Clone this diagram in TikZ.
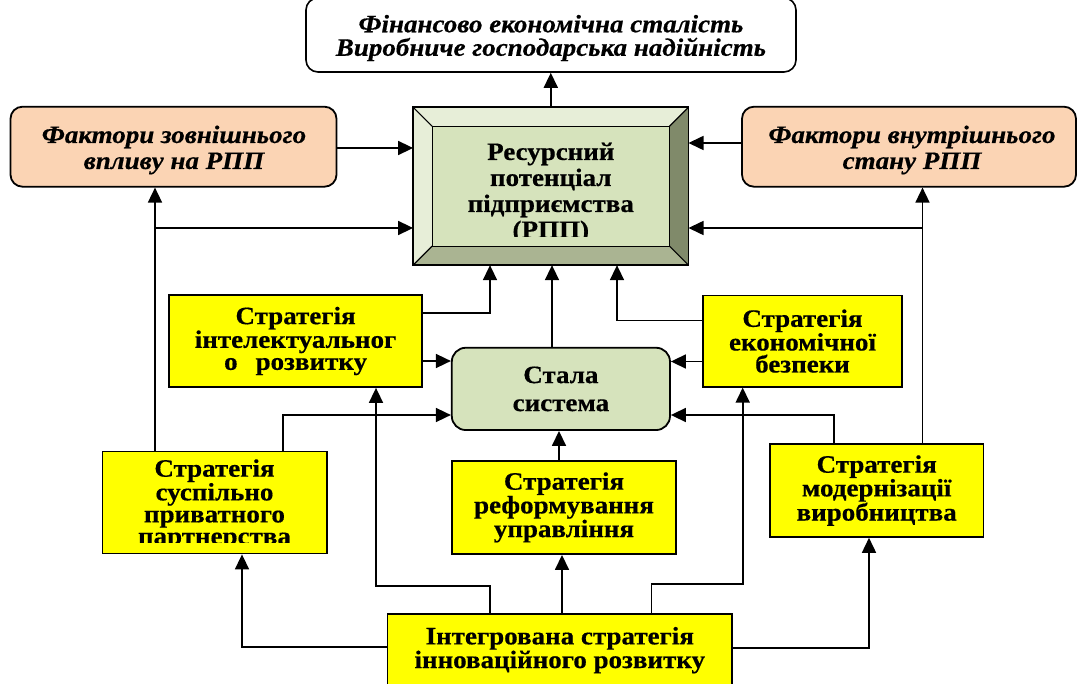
\documentclass[tikz,border=0pt]{standalone}
\usepackage{fontspec}
\setmainfont{Liberation Serif}[FakeStretch=1.08, BoldFeatures={FakeBold=0.5}, BoldItalicFeatures={FakeBold=0.5}]
\usepackage{tikz}
\usetikzlibrary{calc}
\usetikzlibrary{arrows.meta}
\definecolor{apricot}{RGB}{251, 212, 180}
\definecolor{sage}{RGB}{214, 227, 188}
\definecolor{sagelight}{RGB}{231, 238, 216}
\definecolor{sagemid}{RGB}{170, 180, 146}
\definecolor{sagedark}{RGB}{128, 138, 106}
\definecolor{lemon}{RGB}{255, 255, 0}
\tikzset{
  link/.style={draw=black, line width=1.6pt, -{Triangle[length=15pt,width=14pt]}},
  goalbox/.style={draw=black, line width=1.6pt, fill=white, rounded corners=12pt, inner sep=0pt,
                  minimum width=490pt, minimum height=74pt},
  goaltext/.style={align=center, inner sep=0pt, font=\fontsize{25}{23.5}\selectfont\bfseries\itshape},
  factorbox/.style={draw=black, line width=1.8pt, fill=apricot, rounded corners=12pt, inner sep=0pt,
                    minimum height=80pt},
  factortext/.style={align=center, inner sep=0pt, font=\fontsize{25}{26}\selectfont\bfseries\itshape},
  stratbox/.style={draw=black, line width=1.8pt, fill=lemon, align=center, inner sep=0pt,
                   font=\fontsize{25}{22}\selectfont\bfseries},
  strattext/.style={align=center, inner sep=0pt, font=\fontsize{25}{22}\selectfont\bfseries},
  stablebox/.style={draw=black, line width=1.8pt, fill=sage, rounded corners=14pt, align=center, inner sep=0pt,
                    font=\fontsize{25}{28}\selectfont\bfseries},
  rppbox/.style={inner sep=0pt, minimum width=275pt, minimum height=157.5pt},
  rpptext/.style={align=center, inner sep=0pt, font=\fontsize{25}{26}\selectfont\bfseries}
}

\begin{document}
\begin{tikzpicture}[x=1pt, y=-1pt]
            % Frame
            \useasboundingbox (0,0) rectangle (1077,684);
            % Goal
            \node[goalbox] (goal) at (551,35) {};
            \node[goaltext] (goaltxt) at (551,38) {Фінансово економічна сталість\\Виробниче господарська надійність};
            % Factors
            \node[factorbox, minimum width=326pt] (fext) at (173.5,146.7) {};
            \node[factortext] (fexttxt) at (174,150)  {Фактори зовнішнього\\впливу на РПП};
            \node[factorbox, minimum width=334pt] (fint) at (909,146.7)   {};
            \node[factortext] (finttxt) at (912,150)  {Фактори внутрішнього\\стану РПП};
            % Resource potential, bevelled frame
            \node[rppbox] (rpp) at (550.8,186.2) {};
            \coordinate (rin-nw) at ($(rpp.north west)+( 19, 19)$);
            \coordinate (rin-ne) at ($(rpp.north east)+(-19, 19)$);
            \coordinate (rin-se) at ($(rpp.south east)+(-19,-19)$);
            \coordinate (rin-sw) at ($(rpp.south west)+( 19,-19)$);
            \fill[sagelight] (rpp.north west) -- (rpp.north east) -- (rin-ne) -- (rin-nw) -- cycle;
            \fill[sagelight] (rpp.north west) -- (rpp.south west) -- (rin-sw) -- (rin-nw) -- cycle;
            \fill[sagedark]  (rpp.north east) -- (rpp.south east) -- (rin-se) -- (rin-ne) -- cycle;
            \fill[sagemid]   (rpp.south west) -- (rpp.south east) -- (rin-se) -- (rin-sw) -- cycle;
            \fill[sage]      (rin-nw) rectangle (rin-se);
            \draw[line width=1.2pt] (rin-nw) rectangle (rin-se);
            \draw[line width=1.2pt] (rpp.north west) -- (rin-nw)  (rpp.north east) -- (rin-ne)
                                    (rpp.south east) -- (rin-se)  (rpp.south west) -- (rin-sw);
            \draw[line width=1.8pt] (rpp.north west) rectangle (rpp.south east);
            \begin{scope}
              \clip (rin-nw) rectangle ($(rin-se)+(0,-10)$);
              \node[rpptext] (rpptxt) at (550.8,193) {Ресурсний\\потенціал\\підприємства\\(РПП)};
            \end{scope}
            % Strategies
            \node[stratbox, minimum width=252.5pt, minimum height=92pt] (int)   at (295.6,341)   {Стратегія\\інтелектуальног\\о\hspace{18pt}розвитку};
            \node[stratbox, minimum width=198.4pt, minimum height=91.2pt] (econ) at (802.5,341.1) {Стратегія\\економічної\\безпеки};
            \node[stratbox, minimum width=224pt, minimum height=93.3pt] (ref)   at (564,507.4)   {Стратегія\\реформування\\управління};
            \node[stratbox, minimum width=213.4pt, minimum height=92.6pt] (mod)  at (876.7,490.6) {Стратегія\\модернізації\\виробництва};
            \node[stratbox, minimum width=224.2pt, minimum height=102pt] (susp)  at (214.5,502.5) {};
            \begin{scope}
              \clip ($(susp.north west)+(2,2)$) rectangle ($(susp.south east)+(-2,-11.5)$);
              \node[strattext] (susptxt) at (214.5,504.5) {Стратегія\\суспільно\\приватного\\партнерства};
            \end{scope}
            \node[stratbox, minimum width=344.5pt, minimum height=71.7pt] (integ) at (559.8,650.2) {Інтегрована стратегія\\інноваційного розвитку};
            % Stable system
            \node[stablebox, minimum width=218.2pt, minimum height=82.3pt] (stala) at (560.9,388.9) {Стала\\система};
            % Connectors
            \coordinate (lsplit) at (155,228);
            \coordinate (rsplit) at (922.5,228);
            \draw[link] (rpp.north) -- (rpp.north |- goal.south);
            \draw[link] (fext.east |- 0,148) -- (rpp.west |- 0,148);
            \draw[link] (fint.west |- 0,143) -- (rpp.east |- 0,143);
            \draw[link] (susp.north -| lsplit) -- (fext.south -| lsplit);
            \draw[link] (lsplit) -- (rpp.west |- lsplit);
            \draw[link] (mod.north -| rsplit) -- (fint.south -| rsplit);
            \draw[link] (rsplit) -- (rpp.east |- rsplit);
            \draw[link] (int.east |- 0,313) -| (rpp.south -| 490,0);
            \draw[link] (int.east |- 0,361) -- (stala.west |- 0,361);
            \draw[link] (stala.north -| 552,0) -- (rpp.south -| 552,0);
            \draw[link] (econ.west |- 0,320.5) -| (rpp.south -| 617,0);
            \draw[link] (econ.west |- 0,361.5) -- (stala.east |- 0,361.5);
            \draw[link] (susp.north -| 283,0) |- (stala.west |- 0,415);
            \draw[link] (mod.north -| 834,0) |- (stala.east |- 0,415);
            \draw[link] (ref.north -| 559,0) -- (stala.south -| 559,0);
            \draw[link] (integ.west |- 0,647) -| (susp.south -| 242,0);
            \draw[link] (integ.north -| 490,0) -- (490,586) -| (int.south -| 376,0);
            \draw[link] (integ.north -| 562,0) -- (ref.south -| 562,0);
            \draw[link] (integ.north -| 651.5,0) -- (651.5,584) -| (econ.south -| 742.7,0);
            \draw[link] (integ.east |- 0,648) -| (mod.south -| 869,0);
\end{tikzpicture}
\end{document}
